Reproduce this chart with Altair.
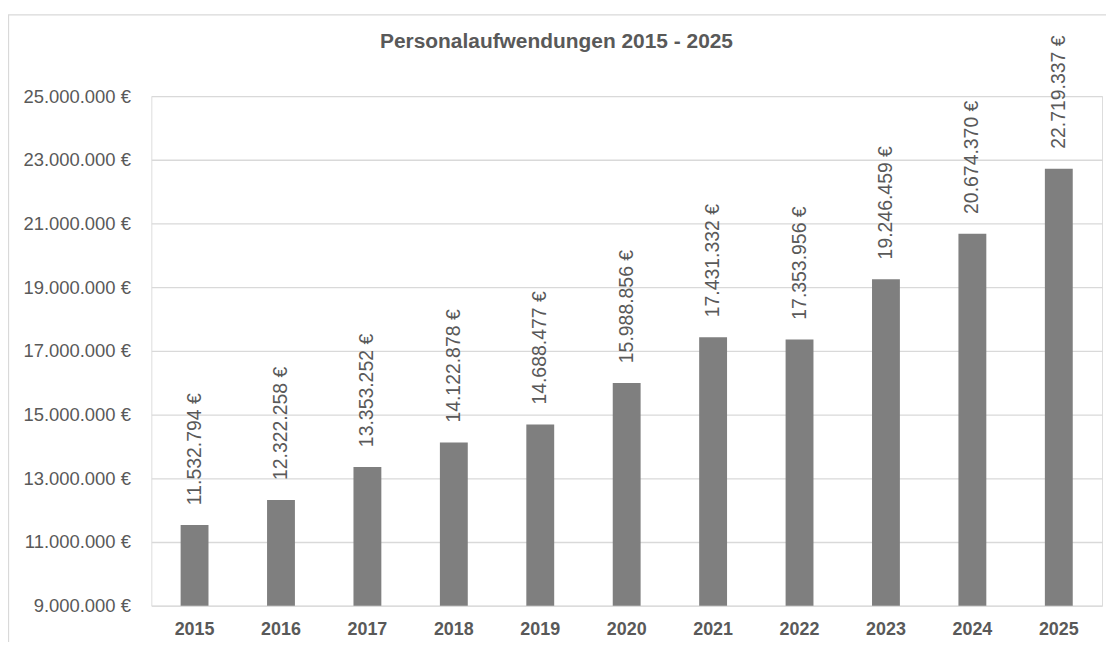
import altair as alt
import pandas as pd

years = ["2015", "2016", "2017", "2018", "2019", "2020", "2021", "2022", "2023", "2024", "2025"]
values = [11532794, 12322258, 13353252, 14122878, 14688477, 15988856,
          17431332, 17353956, 19246459, 20674370, 22719337]
y_ticks = [9000000, 11000000, 13000000, 15000000, 17000000, 19000000,
           21000000, 23000000, 25000000]
title_text = "Personalaufwendungen 2015 - 2025"

labels = [f"{v:,}".replace(",", ".") + " €" for v in values]
df = pd.DataFrame({"Jahr": years, "Wert": values, "Label": labels})

FONT = "Liberation Sans, Arial, Helvetica, sans-serif"
TXT = "#595959"
GRID = "#d9d9d9"
BAR = "#7f7f7f"

x_enc = alt.X("Jahr:N", sort=years, title=None,
              scale=alt.Scale(paddingInner=0.1, paddingOuter=0.05),
              axis=alt.Axis(labelAngle=0, labelFontSize=18, labelFontWeight="bold",
                            labelColor=TXT, labelFont=FONT, ticks=False, tickSize=0,
                            domain=False, grid=False, labelPadding=15))
y_enc = alt.Y("Wert:Q", title=None,
              scale=alt.Scale(domain=[9000000, 25000000], nice=False, zero=False, clamp=True),
              axis=alt.Axis(values=y_ticks, labelFontSize=18.5, labelColor=TXT, labelFont=FONT,
                            labelExpr="join(split(format(datum.value, ',.0f'), ','), '.') + ' €'",
                            ticks=False, tickSize=0, domain=False, grid=True,
                            gridColor=GRID, gridWidth=1.3, labelPadding=21))

base = alt.Chart(df)

bars = base.mark_bar(size=28, color=BAR).encode(x=x_enc, y=y_enc)

texts = base.mark_text(angle=270, align="left", baseline="middle", dx=20,
                       fontSize=19.5, font=FONT, color=TXT).encode(
    x=alt.X("Jahr:N", sort=years), y=alt.Y("Wert:Q"), text="Label:N")

one = pd.DataFrame({"t": [title_text]})

frame = alt.Chart(one).mark_rect(
    fill=None, stroke=GRID, strokeWidth=1.3).encode(
    x=alt.value(-143.5), x2=alt.value(1200), y=alt.value(-81.5), y2=alt.value(700))

title = alt.Chart(one).mark_text(
    fontSize=21, fontWeight="bold", font=FONT, color=TXT,
    align="center", baseline="alphabetic").encode(
    x=alt.value(407), y=alt.value(-48), text="t:N")

chart = alt.layer(frame, bars, texts, title).properties(
    width=955, height=512,
    autosize=alt.AutoSizeParams(type="none"),
    padding={"left": 144, "top": 87, "right": 4, "bottom": 35},
).configure_view(stroke=None).configure(background="white")

chart.save("out.html", embed_options={"renderer": "svg", "actions": False})
